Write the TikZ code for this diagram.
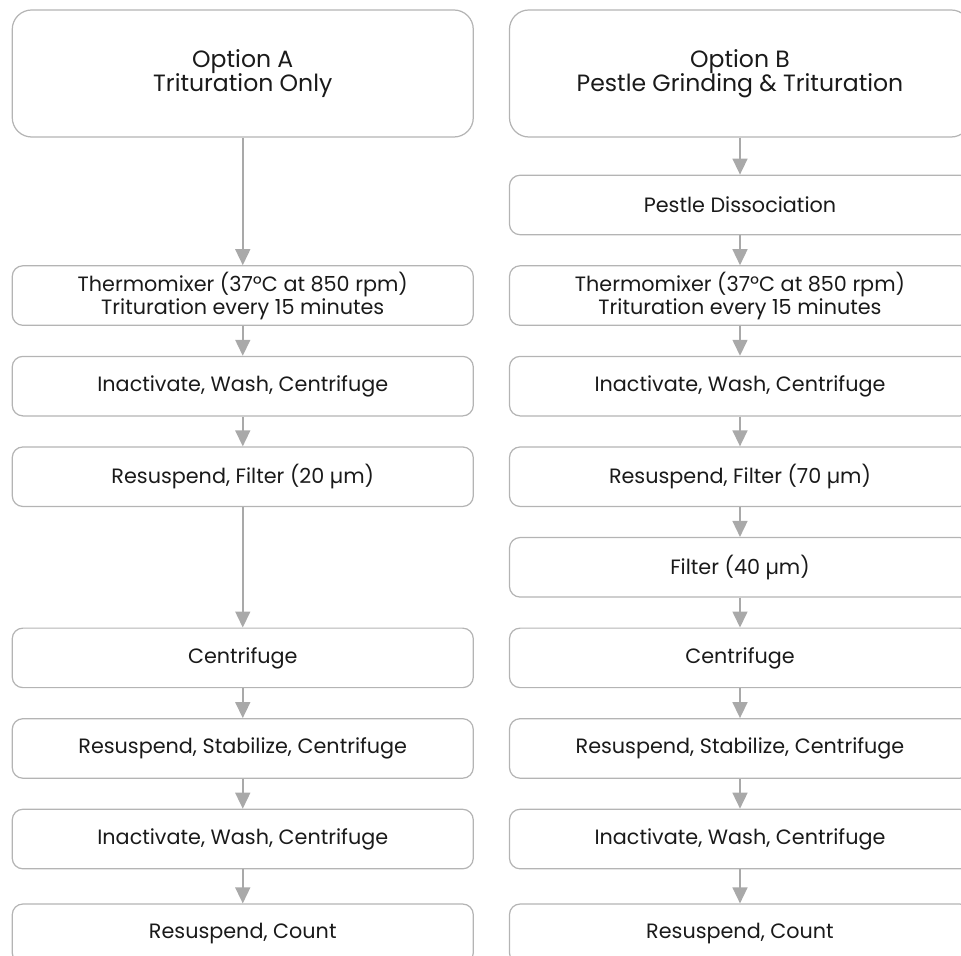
\documentclass[tikz,border=0pt]{standalone}
\usepackage{fontspec}
\setmainfont{Poppins}
\usetikzlibrary{positioning,arrows.meta}
\definecolor{boxgray}{HTML}{B4B4B4}
\definecolor{arrowgray}{HTML}{A9A9A9}
\definecolor{textdark}{HTML}{1A1A1A}
\begin{document}
\begin{tikzpicture}[node distance=0.597cm,
  stepbox/.style={draw=boxgray, line width=0.7pt, rectangle, rounded corners=6pt,
    minimum width=9.22cm, minimum height=1.19cm, align=center, text=textdark,
    font=\fontsize{11.8}{12}\selectfont},
  headbox/.style={stepbox, minimum height=2.54cm, rounded corners=11pt,
    font=\fontsize{13.4}{13.8}\selectfont},
  flow/.style={-{Triangle[width=0.3cm, length=0.32cm]}, draw=arrowgray,
    fill=arrowgray, line width=0.9pt}]
  \useasboundingbox (0,0) rectangle (19.22,-19.12);
  % right column (Option B)
  \node (optB) [headbox] at (14.8,-1.47) {Option B\\Pestle Grinding \& Trituration};
  \node (pestleB) [stepbox, below=0.74cm of optB] {Pestle Dissociation};
  \node (thermoB) [stepbox, below=of pestleB] {Thermomixer (37ºC at 850 rpm)\\Trituration every 15 minutes};
  \node (inactB) [stepbox, below=of thermoB] {Inactivate, Wash, Centrifuge};
  \node (filterB) [stepbox, below=of inactB] {Resuspend, Filter (70 µm)};
  \node (fortyB) [stepbox, below=of filterB] {Filter (40 µm)};
  \node (centriB) [stepbox, below=of fortyB] {Centrifuge};
  \node (stabB) [stepbox, below=of centriB] {Resuspend, Stabilize, Centrifuge};
  \node (washB) [stepbox, below=of stabB] {Inactivate, Wash, Centrifuge};
  \node (countB) [stepbox, below=0.68cm of washB] {Resuspend, Count};
  % left column (Option A)
  \node (optA) [headbox, left=0.7cm of optB] {Option A\\Trituration Only};
  \node (thermoA) [stepbox, left=0.7cm of thermoB] {Thermomixer (37ºC at 850 rpm)\\Trituration every 15 minutes};
  \node (inactA) [stepbox, left=0.7cm of inactB] {Inactivate, Wash, Centrifuge};
  \node (filterA) [stepbox, left=0.7cm of filterB] {Resuspend, Filter (20 µm)};
  \node (centriA) [stepbox, left=0.7cm of centriB] {Centrifuge};
  \node (stabA) [stepbox, left=0.7cm of stabB] {Resuspend, Stabilize, Centrifuge};
  \node (washA) [stepbox, left=0.7cm of washB] {Inactivate, Wash, Centrifuge};
  \node (countA) [stepbox, left=0.7cm of countB] {Resuspend, Count};
  % connectors
  \draw[flow] (optA) -- (thermoA);
  \draw[flow] (thermoA) -- (inactA);
  \draw[flow] (inactA) -- (filterA);
  \draw[flow] (filterA) -- (centriA);
  \draw[flow] (centriA) -- (stabA);
  \draw[flow] (stabA) -- (washA);
  \draw[flow] (washA) -- (countA);
  \draw[flow] (optB) -- (pestleB);
  \draw[flow] (pestleB) -- (thermoB);
  \draw[flow] (thermoB) -- (inactB);
  \draw[flow] (inactB) -- (filterB);
  \draw[flow] (filterB) -- (fortyB);
  \draw[flow] (fortyB) -- (centriB);
  \draw[flow] (centriB) -- (stabB);
  \draw[flow] (stabB) -- (washB);
  \draw[flow] (washB) -- (countB);
\end{tikzpicture}
\end{document}
